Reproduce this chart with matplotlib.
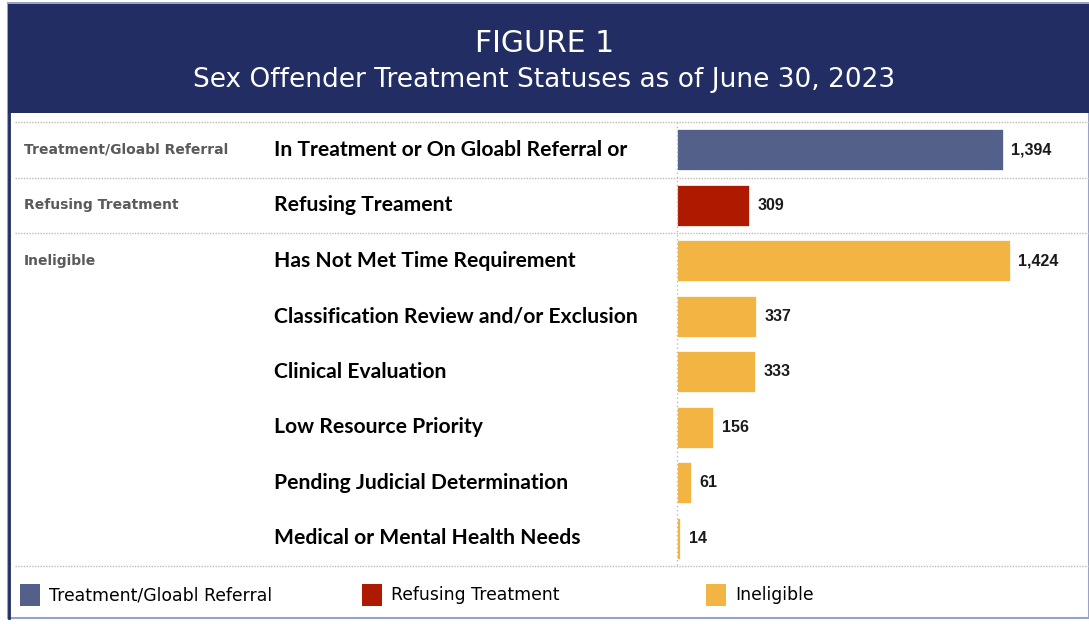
import matplotlib
matplotlib.use("Agg")
import matplotlib.pyplot as plt
from matplotlib.patches import Rectangle
from matplotlib.transforms import blended_transform_factory

groups = ["Treatment/Gloabl Referral", "Refusing Treatment", "Ineligible"]
group_colors = ["#53608A", "#AD1A00", "#F2B544"]

categories = [
    "In Treatment or On Gloabl Referral or",
    "Refusing Treament",
    "Has Not Met Time Requirement",
    "Classification Review and/or Exclusion",
    "Clinical Evaluation",
    "Low Resource Priority",
    "Pending Judicial Determination",
    "Medical or Mental Health Needs",
]
cat_group = [0, 1, 2, 2, 2, 2, 2, 2]
values = [1394, 309, 1424, 337, 333, 156, 61, 14]

W, H = 1089, 624
navy = "#222E63"

fig = plt.figure(figsize=(W / 100, H / 100), dpi=100)

def fx(px):
    return px / W

def fy(py):
    return 1 - py / H

# outer frame and title band
fig.patches.append(Rectangle((fx(8), fy(618)), fx(1089) - fx(8), fy(3) - fy(618),
                             transform=fig.transFigure, facecolor="white",
                             edgecolor="#9AA3C4", lw=1.5, zorder=-2))
fig.patches.append(Rectangle((fx(8), fy(113)), 1, fy(4) - fy(113),
                             transform=fig.transFigure, facecolor=navy,
                             edgecolor="none", zorder=-1))
fig.lines.append(plt.Line2D([fx(9), fx(9)], [fy(618), fy(113)], transform=fig.transFigure,
                            color=navy, lw=2))
fig.text(0.5, fy(44), "FIGURE 1", ha="center", va="center", color="white", fontsize=21.5)
fig.text(0.5, fy(80), "Sex Offender Treatment Statuses as of June 30, 2023",
         ha="center", va="center", color="white", fontsize=19)

# bar axes
ax = fig.add_axes([fx(677), fy(566), fx(1089) - fx(677), fy(122) - fy(566)])
ax.set_xlim(0, (1089 - 677) / ((1010 - 677) / 1424))
ax.set_ylim(len(categories) - 0.5, -0.5)
ax.axis("off")

ypos = list(range(len(categories)))
bar_colors = [group_colors[g] for g in cat_group]
bars = ax.barh(ypos, values, height=0.74, color=bar_colors, edgecolor="white", lw=0.5)
for b, v in zip(bars, values):
    ax.annotate(f"{v:,}", (b.get_width(), b.get_y() + b.get_height() / 2),
                xytext=(6, 0), textcoords="offset points", va="center",
                fontsize=11.5, fontweight="bold", family="Liberation Sans", color="#1A1A1A")

# dotted separators
tr = blended_transform_factory(fig.transFigure, ax.transData)
bounds = [-0.5]
for i in range(1, len(cat_group)):
    if cat_group[i] != cat_group[i - 1]:
        bounds.append(i - 0.5)
bounds.append(len(categories) - 0.5)
for yb in bounds:
    ax.plot([fx(15), 1], [yb, yb], transform=tr, color="#BBBBBB", lw=1,
            ls=(0, (1, 1)), clip_on=False)
ax.plot([0, 0], [-0.5, len(categories) - 0.5], color="#BBBBBB", lw=1,
        ls=(0, (1, 2)), clip_on=False)

# row and group labels
for i, c in enumerate(categories):
    ax.text(fx(274), i, c, transform=tr, va="center", ha="left", fontsize=15.2,
            fontweight="bold", family="Lato", color="black")
for g, name in enumerate(groups):
    first = cat_group.index(g)
    ax.text(fx(24), first, name, transform=tr, va="center", ha="left", fontsize=10,
            fontweight="bold", color="#5A5A5A")

# legend
for g, (name, col) in enumerate(zip(groups, group_colors)):
    x0 = [20, 362, 706][g]
    fig.patches.append(Rectangle((fx(x0), fy(606)), fx(20), fy(584) - fy(606),
                                 transform=fig.transFigure, facecolor=col,
                                 edgecolor="none"))
    fig.text(fx(x0 + 29), fy(595), name, va="center", ha="left", fontsize=12.4,
             color="black")

fig.savefig("out.png", dpi=100)
